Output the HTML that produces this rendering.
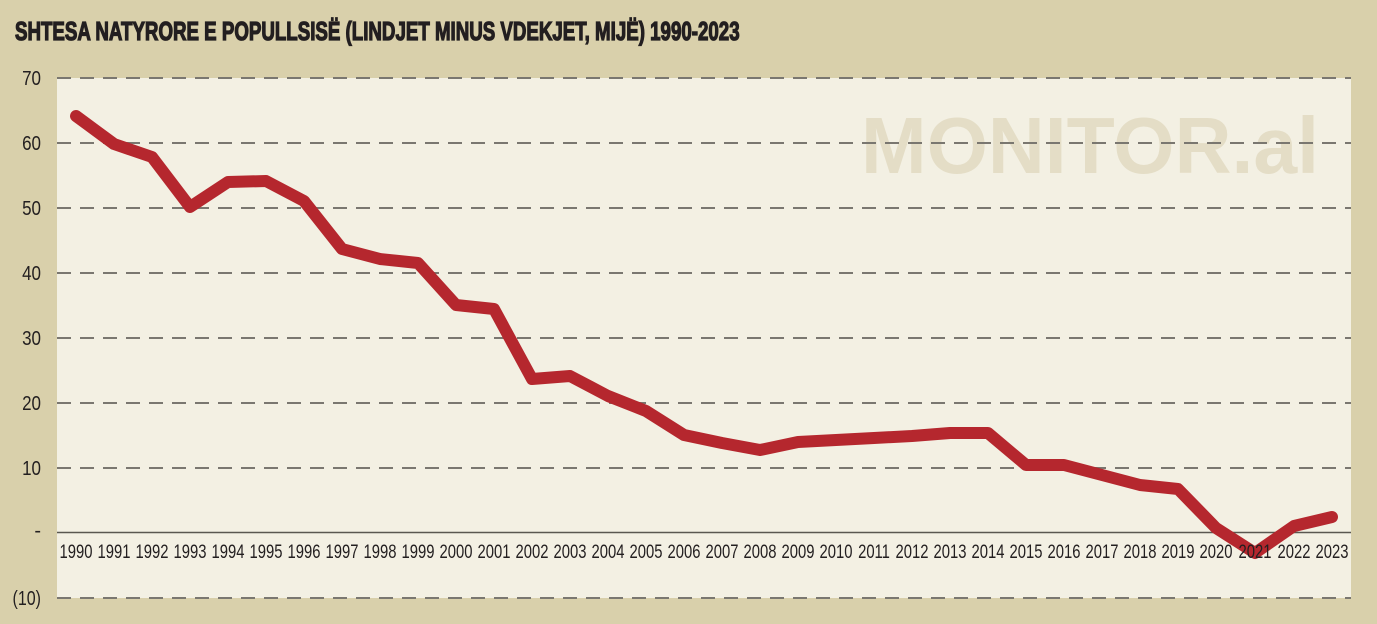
<!DOCTYPE html>
<html><head><meta charset="utf-8"><style>
html,body{margin:0;padding:0;width:1377px;height:624px;overflow:hidden;background:#d9d0ab;}
svg{display:block}
</style></head><body>
<svg width="1377" height="624" viewBox="0 0 1377 624" xmlns="http://www.w3.org/2000/svg">
<rect x="0" y="0" width="1377" height="624" fill="#d9d0ab"/>
<text transform="translate(15,40) scale(0.72,1)" font-family="Liberation Sans, sans-serif" font-weight="bold" font-size="26" fill="#231f20" stroke="#231f20" stroke-width="1.3">SHTESA NATYRORE E POPULLSISË (LINDJET MINUS VDEKJET, MIJË) 1990-2023</text>
<rect x="57" y="78" width="1294" height="520" fill="#f3f0e3"/>
<text x="1090" y="173" font-family="Liberation Sans, sans-serif" font-weight="bold" font-size="80" fill="#e4ddc6" text-anchor="middle" textLength="458" lengthAdjust="spacingAndGlyphs">MONITOR.al</text>
<g stroke="#7a7770" stroke-width="2" stroke-dasharray="14,9">
<line x1="57" y1="78" x2="1351" y2="78"/>
<line x1="57" y1="143" x2="1351" y2="143"/>
<line x1="57" y1="208" x2="1351" y2="208"/>
<line x1="57" y1="273" x2="1351" y2="273"/>
<line x1="57" y1="338" x2="1351" y2="338"/>
<line x1="57" y1="403" x2="1351" y2="403"/>
<line x1="57" y1="468" x2="1351" y2="468"/>
<line x1="57" y1="598" x2="1351" y2="598"/>
</g>
<line x1="57" y1="532.5" x2="1351" y2="532.5" stroke="#5a5750" stroke-width="1.5"/>
<g font-family="Liberation Sans, sans-serif" font-size="20" fill="#231f20" text-anchor="end">
<text transform="translate(41,85) scale(0.85,1)">70</text><text transform="translate(41,150) scale(0.85,1)">60</text><text transform="translate(41,215) scale(0.85,1)">50</text>
<text transform="translate(41,280) scale(0.85,1)">40</text><text transform="translate(41,345) scale(0.85,1)">30</text><text transform="translate(41,410) scale(0.85,1)">20</text>
<text transform="translate(41,475) scale(0.85,1)">10</text><text x="41" y="537">-</text><text transform="translate(41,605) scale(0.8,1)">(10)</text>
</g>
<polyline fill="none" stroke="#b5272e" stroke-width="12" stroke-linejoin="round" stroke-linecap="round"
points="76,116 114,144 152,157 190,207 228,182 266,181 304,201 342,249 380,259 418,263 456,305 494,309 532,379 570,376 608,396 646,411 684,435 722,443 760,450 798,442 836,440 874,438 912,436 950,433 988,433 1026,465 1064,465 1102,475 1140,485 1178,489 1216,528 1255,553 1294,526 1332,517"/>
<g font-family="Liberation Sans, sans-serif" font-size="19" fill="#231f20" text-anchor="middle">
<text transform="translate(76,558) scale(0.78,1)">1990</text><text transform="translate(114,558) scale(0.78,1)">1991</text><text transform="translate(152,558) scale(0.78,1)">1992</text><text transform="translate(190,558) scale(0.78,1)">1993</text><text transform="translate(228,558) scale(0.78,1)">1994</text><text transform="translate(266,558) scale(0.78,1)">1995</text><text transform="translate(304,558) scale(0.78,1)">1996</text><text transform="translate(342,558) scale(0.78,1)">1997</text><text transform="translate(380,558) scale(0.78,1)">1998</text><text transform="translate(418,558) scale(0.78,1)">1999</text><text transform="translate(456,558) scale(0.78,1)">2000</text><text transform="translate(494,558) scale(0.78,1)">2001</text><text transform="translate(532,558) scale(0.78,1)">2002</text><text transform="translate(570,558) scale(0.78,1)">2003</text><text transform="translate(608,558) scale(0.78,1)">2004</text><text transform="translate(646,558) scale(0.78,1)">2005</text><text transform="translate(684,558) scale(0.78,1)">2006</text><text transform="translate(722,558) scale(0.78,1)">2007</text><text transform="translate(760,558) scale(0.78,1)">2008</text><text transform="translate(798,558) scale(0.78,1)">2009</text><text transform="translate(836,558) scale(0.78,1)">2010</text><text transform="translate(874,558) scale(0.78,1)">2011</text><text transform="translate(912,558) scale(0.78,1)">2012</text><text transform="translate(950,558) scale(0.78,1)">2013</text><text transform="translate(988,558) scale(0.78,1)">2014</text><text transform="translate(1026,558) scale(0.78,1)">2015</text><text transform="translate(1064,558) scale(0.78,1)">2016</text><text transform="translate(1102,558) scale(0.78,1)">2017</text><text transform="translate(1140,558) scale(0.78,1)">2018</text><text transform="translate(1178,558) scale(0.78,1)">2019</text><text transform="translate(1216,558) scale(0.78,1)">2020</text><text transform="translate(1255,558) scale(0.78,1)">2021</text><text transform="translate(1294,558) scale(0.78,1)">2022</text><text transform="translate(1332,558) scale(0.78,1)">2023</text>
</g>
</svg>
</body></html>
